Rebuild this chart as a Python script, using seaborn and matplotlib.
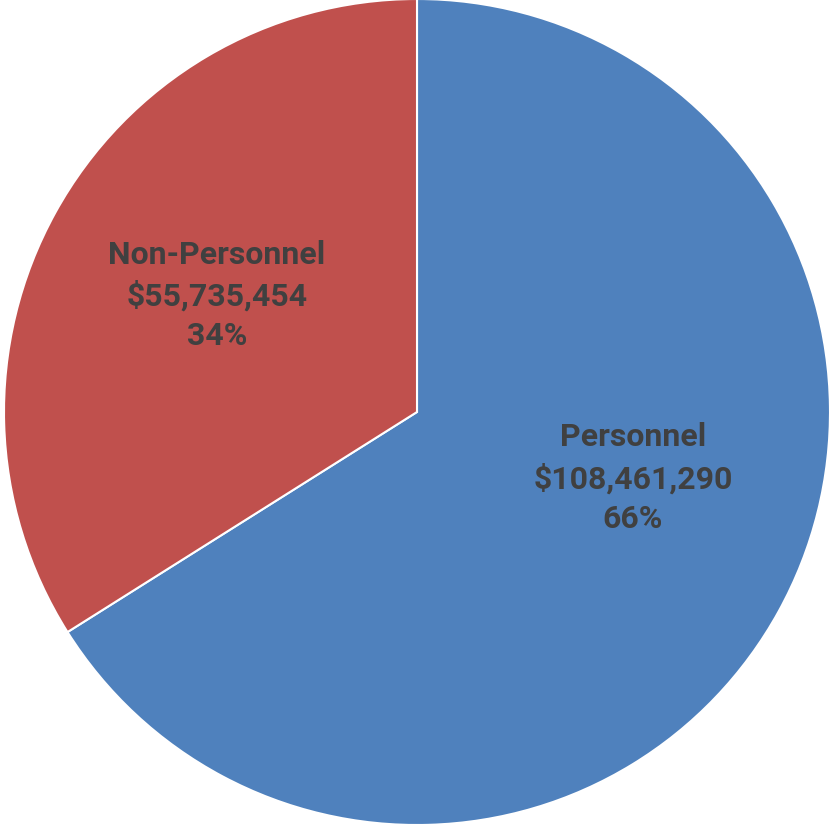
import matplotlib
matplotlib.use("Agg")
import matplotlib.pyplot as plt
import seaborn as sns

categories = ["Personnel", "Non-Personnel"]
amounts = [108461290, 55735454]
percents = ["66%", "34%"]
colors = ["#4F81BD", "#C0504D"]

sns.set_theme(style="white")
plt.rcParams['font.family'] = ['Roboto', 'DejaVu Sans']

W, H = 831, 827
fig = plt.figure(figsize=(W / 100, H / 100), dpi=100)
ax = fig.add_axes([0, 0, 1, 1])

cx, cy, R = 417, 412, 413
ax.pie(amounts, colors=colors, startangle=90, counterclock=False,
       radius=1, wedgeprops=dict(edgecolor="white", linewidth=1.5))
ax.set_xlim(-cx / R, (W - cx) / R)
ax.set_ylim(-(H - cy) / R, cy / R)
ax.set_aspect("auto")
ax.axis("off")

label_pos = [(0.523, -0.160), (-0.484, 0.283)]
for cat, amt, pct, (x, y) in zip(categories, amounts, percents, label_pos):
    ax.text(x, y, f"{cat}\n${amt:,.0f}\n{pct}", ha="center", va="center",
            fontsize=23, fontweight="bold", color="#404040", linespacing=1.4)

fig.savefig("out.png", dpi=100)
